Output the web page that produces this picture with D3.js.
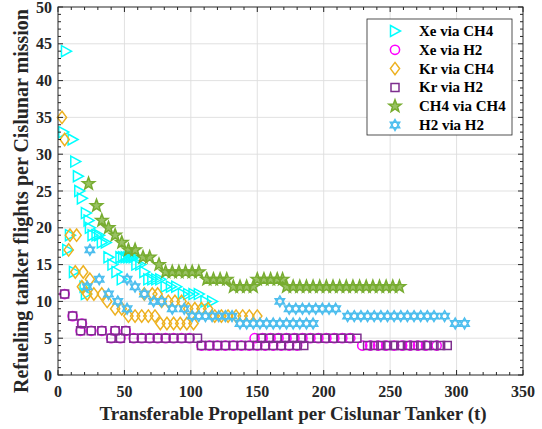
<!DOCTYPE html>
<html><head><meta charset="utf-8">
<script src="https://cdn.jsdelivr.net/npm/d3@7"></script>
<style>body{margin:0;background:#fff}svg{display:block}</style>
</head><body>
<script>
// ---- data ----
const seriesNames = ["Xe via CH4","Xe via H2","Kr via CH4","Kr via H2","CH4 via CH4","H2 via H2"];
const xTicks = [0,50,100,150,200,250,300,350];
const yTicks = [0,5,10,15,20,25,30,35,40,45,50];

const xeCH4_x = [4,6,11,13,15,16,18,21,23,24,26,29,31,33,36,38,41,44,48,47,49,51,53,55,57,59,62,65,68,71,74,77,81,85,89,94,98,102,106,111,116,7,9,12,20,21];
const xeCH4_y = [33,44,32,29,27,25,24,22,21,20,19,19,19,18,18,16,15,14,13,16,16,16,16,16,16,15,15,14,13,13,13,13,12,12,12,11,11,11,11,10,10,17,19,14,12,11];

const xeH2_x = [5,11,18,17,25,33,40,43,47,51,57,63,69,75,81,87,93,99,108,114,120,126,132,138,144,150,156,162,168,174,180,148,154,160,166,172,178,184,190,196,202,208,214,220,229,235,241,247,253,259,265,271,277,285];
const xeH2_y = [11,8,7,6,6,6,5,6,5,6,5,5,5,5,5,5,5,5,4,4,4,4,4,4,4,4,4,4,4,4,4,5,5,5,5,5,5,5,5,5,5,5,5,5,4,4,4,4,4,4,4,4,4,4];

const krCH4_x = [3,5,8,9,14,13,19,18,24,22,27,33,37,43,48,53,58,63,68,73,77,82,87,92,97,102,65,71,75,78,83,88,93,98,103,108,113,118,123,128,134,139,144,150];
const krCH4_y = [35,32,17,19,19,14,14,12,13,11,11,11,10,9,9,8,8,8,8,8,7,7,7,7,7,7,11,11,11,10,10,10,10,9,9,9,9,8,8,8,8,8,8,8];

const krH2_x = [5,11,18,17,25,33,40,43,47,51,57,63,69,75,81,87,93,99,105,108,114,120,126,132,138,144,150,156,162,168,174,180,185,153,159,165,171,177,183,189,195,201,207,213,219,225,233,238,243,248,253,258,263,268,273,278,283,288,293];
const krH2_y = [11,8,7,6,6,6,5,6,5,6,5,5,5,5,5,5,5,5,5,4,4,4,4,4,4,4,4,4,4,4,4,4,4,5,5,5,5,5,5,5,5,5,5,5,5,5,4,4,4,4,4,4,4,4,4,4,4,4,4];

const ch4_x = [23,29,33,38,43,48,53,58,64,69,76,81,86,91,96,101,106,112,117,122,127,132,137,142,147,150,155,160,165,169,172,177,182,187,192,197,202,207,212,217,222,227,232,237,242,247,252,257];
const ch4_y = [26,23,21,20,19,18,17,17,16,16,15,14,14,14,14,14,14,13,13,13,13,12,12,12,12,13,13,13,13,13,12,12,12,12,12,12,12,12,12,12,12,12,12,12,12,12,12,12];

const h2_x = [22,24,31,38,45,52,52,58,65,72,78,86,95,101,106,111,116,121,126,131,137,142,147,152,157,162,167,172,177,182,187,192,167,174,179,184,189,194,199,204,209,218,223,228,233,238,243,248,253,258,263,268,273,278,283,291,299,306];
const h2_y = [12,17,13,11,10,9,13,12,11,10,10,9,9,8,8,8,8,8,8,8,7,7,7,7,7,7,7,7,7,7,7,7,10,9,9,9,9,9,9,9,9,8,8,8,8,8,8,8,8,8,8,8,8,8,8,8,7,7];

const seriesX = [xeCH4_x, xeH2_x, krCH4_x, krH2_x, ch4_x, h2_x];
const seriesY = [xeCH4_y, xeH2_y, krCH4_y, krH2_y, ch4_y, h2_y];
const colors = ["#00FFFF","#FF00FF","#EDB120","#7E2F8E","#77AC30","#4DBEEE"];

// ---- layout ----
const W = 542, H = 429;
const L = 58, R = 523, T = 7, B = 375;
const font = "'Liberation Serif','Times New Roman',serif";
const axisCol = "#262626";

const svg = d3.select("body").append("svg").attr("width", W).attr("height", H);
const x = d3.scaleLinear().domain([0,350]).range([L,R]);
const y = d3.scaleLinear().domain([0,50]).range([B,T]);

// grid
const g = svg.append("g");
g.selectAll(".gx").data(xTicks.slice(1,-1)).join("line")
  .attr("x1", d=>x(d)).attr("x2", d=>x(d)).attr("y1", T).attr("y2", B)
  .attr("stroke", "#dedede").attr("stroke-width", 0.9);
g.selectAll(".gy").data(yTicks.slice(1,-1)).join("line")
  .attr("y1", d=>y(d)).attr("y2", d=>y(d)).attr("x1", L).attr("x2", R)
  .attr("stroke", "#dedede").attr("stroke-width", 0.9);

// markers
function markerPath(k){
  const p = d3.path();
  if (k===0){ p.moveTo(-4.5,-5.5); p.lineTo(5.5,0); p.lineTo(-4.5,5.5); p.closePath(); }
  else if (k===1){ p.arc(0,0,4.6,0,2*Math.PI); p.closePath(); }
  else if (k===2){ p.moveTo(0,-6.2); p.lineTo(4.6,0); p.lineTo(0,6.2); p.lineTo(-4.6,0); p.closePath(); }
  else if (k===3){ p.rect(-4,-4,8,8); }
  else if (k===4){
    for (let i=0;i<10;i++){ const r = i%2===0?6.5:2.7; const a = -Math.PI/2 + i*Math.PI/5;
      const px=r*Math.cos(a), py=r*Math.sin(a); if(i===0)p.moveTo(px,py); else p.lineTo(px,py);} p.closePath(); }
  else {
    const r=5.4;
    for (let t=0;t<2;t++){ for(let i=0;i<3;i++){ const a = (t===0?-Math.PI/2:Math.PI/2) + i*2*Math.PI/3;
      const px=r*Math.cos(a), py=r*Math.sin(a); if(i===0)p.moveTo(px,py); else p.lineTo(px,py);} p.closePath(); }
  }
  return p.toString();
}

seriesNames.forEach((name,k)=>{
  const pts = seriesX[k].map((v,i)=>[v, seriesY[k][i]]);
  svg.append("g").selectAll("path").data(pts).join("path")
    .attr("d", markerPath(k))
    .attr("transform", d=>`translate(${x(d[0])},${y(d[1])})`)
    .attr("fill", k===4 ? colors[k] : "none")
    .attr("fill-opacity", k===4 ? 0.75 : 0)
    .attr("stroke", colors[k]).attr("stroke-width", 1.5)
    .attr("stroke-linejoin","miter");
});

// axes box and ticks
const ax = svg.append("g");
ax.append("rect").attr("x",L).attr("y",T).attr("width",R-L).attr("height",B-T)
  .attr("fill","none").attr("stroke",axisCol).attr("stroke-width",1);
const xMinor = d3.range(0,351,10), yMinor = d3.range(0,51,1);
xMinor.forEach(v=>{ const len = v%50===0?5:3;
  ax.append("line").attr("x1",x(v)).attr("x2",x(v)).attr("y1",B).attr("y2",B-len).attr("stroke",axisCol);
  ax.append("line").attr("x1",x(v)).attr("x2",x(v)).attr("y1",T).attr("y2",T+len).attr("stroke",axisCol);
});
yMinor.forEach(v=>{ const len = v%5===0?5:3;
  ax.append("line").attr("y1",y(v)).attr("y2",y(v)).attr("x1",L).attr("x2",L+len).attr("stroke",axisCol);
  ax.append("line").attr("y1",y(v)).attr("y2",y(v)).attr("x1",R).attr("x2",R-len).attr("stroke",axisCol);
});
ax.selectAll(".xt").data(xTicks).join("text")
  .attr("x", d=>x(d)).attr("y", 397).attr("text-anchor","middle")
  .attr("font-family",font).attr("font-weight","bold").attr("font-size",16).attr("fill",axisCol)
  .text(d=>d);
ax.selectAll(".yt").data(yTicks).join("text")
  .attr("x", 52).attr("y", d=>y(d)+5.5).attr("text-anchor","end")
  .attr("font-family",font).attr("font-weight","bold").attr("font-size",16).attr("fill",axisCol)
  .text(d=>d);

svg.append("text").attr("x",293).attr("y",420).attr("text-anchor","middle")
  .attr("font-family",font).attr("font-weight","bold").attr("font-size",19).attr("fill",axisCol)
  .text("Transferable Propellant per Cislunar Tanker (t)");
svg.append("text").attr("transform",`translate(28,201) rotate(-90)`).attr("text-anchor","middle")
  .attr("font-family",font).attr("font-weight","bold").attr("font-size",20).attr("fill",axisCol)
  .text("Refueling tanker flights per Cislunar mission");

// legend
const lg = svg.append("g");
lg.append("rect").attr("x",367).attr("y",19).attr("width",145).attr("height",116)
  .attr("fill","#fff").attr("stroke",axisCol).attr("stroke-width",0.8);
seriesNames.forEach((name,k)=>{
  const cy = 31 + k*18.8;
  lg.append("path").attr("d",markerPath(k)).attr("transform",`translate(395,${cy})`)
    .attr("fill", k===4?colors[k]:"none").attr("fill-opacity", k===4?0.75:0)
    .attr("stroke",colors[k]).attr("stroke-width",1.5);
  lg.append("text").attr("x",419).attr("y",cy+5).attr("font-family",font).attr("font-weight","bold")
    .attr("font-size",15).attr("fill","#000").text(name);
});
</script>
</body></html>
